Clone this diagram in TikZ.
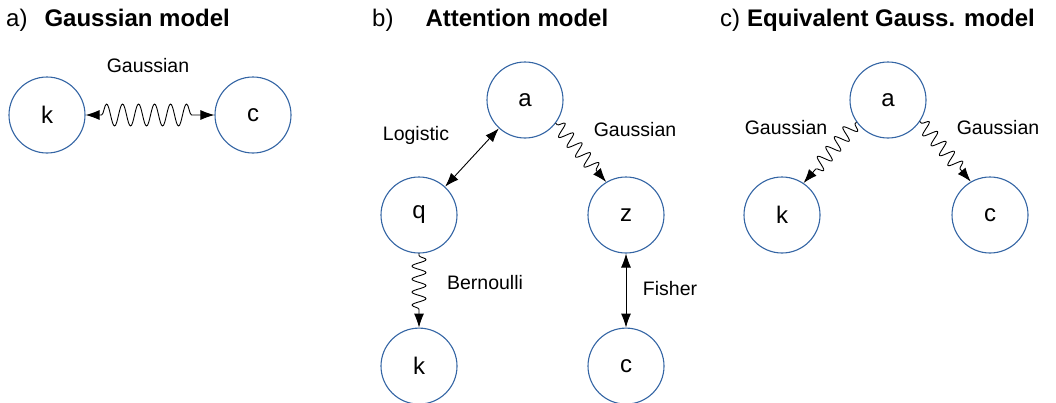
\documentclass[tikz,border=0pt]{standalone}
\usepackage{fontspec}
\setmainfont{Liberation Sans}
\usetikzlibrary{arrows.meta,decorations.pathmorphing,positioning}
\definecolor{nodeblue}{HTML}{3465A4}

\begin{document}
\begin{tikzpicture}[x=1pt,y=-1pt,>={Latex[length=14pt,width=10pt]},
  line cap=round,line join=round,
  var/.style={circle,draw=nodeblue,line width=1.1pt,minimum size=76pt,inner sep=0pt,
    font=\fontsize{24}{28}\selectfont},
  lbl/.style={font=\fontsize{19.5}{23}\selectfont,inner sep=0pt},
  ttl/.style={anchor=base west,font=\fontsize{24}{28}\selectfont,inner sep=0pt},
  arr/.style={line width=0.9pt},
  wig/.style={arr,decorate,decoration={snake,amplitude=7pt,segment length=13pt,
    pre length=2pt,post length=14pt}}]
\useasboundingbox (0,0) rectangle (1056,402);

% a) plain Gaussian pair
\node[ttl] (ta) at (6,26) {a)\hspace{17pt}\textbf{Gaussian model}};
\node[var] (ak) at (47,115) {k};
\node[var] (ac) at (253,115) {c};
\draw[arr,<->,decorate,decoration={snake,amplitude=11pt,segment length=16pt,
  pre length=16pt,post length=16pt}] (ak.east)--(ac.west);
\node[lbl] (la) at (148,66) {Gaussian};

% b) attention model
\node[ttl] (tb) at (372,26) {b)\hspace{32pt}\textbf{Attention model}};
\node[var] (ba) at (525,100) {a};
\node[var] (bq) at (419,215) {q};
\node[var] (bz) at (626,215) {z};
\node[var,below=74pt of bq] (bk) {k};
\node[var,below=74pt of bz] (bc) {c};
\draw[arr,<->] (ba)--(bq);
\draw[wig,->] (ba.-37)--(bz.121);
\draw[wig,->] (bq.south)--(bk.north);
\draw[arr,<->] (bz.south)--(bc.north);
\node[lbl] (lb1) at (416,135) {Logistic};
\node[lbl] (lb2) at (635,130) {Gaussian};
\node[lbl] (lb3) at (485,283) {Bernoulli};
\node[lbl] (lb4) at (670,289) {Fisher};

% c) Gaussian model with the same marginals
\node[ttl] (tc) at (720,26) {c)\hspace{7pt}\textbf{Equivalent Gauss. model}};
\node[var] (ca) at (888,100) {a};
\node[var] (ck) at (782,215) {k};
\node[var] (cc) at (990,215) {c};
\draw[wig,->] (ca.215)--(ck.56);
\draw[wig,->] (ca.-34)--(cc.120);
\node[lbl] (lc1) at (786,128) {Gaussian};
\node[lbl] (lc2) at (998,128) {Gaussian};
\end{tikzpicture}
\end{document}
